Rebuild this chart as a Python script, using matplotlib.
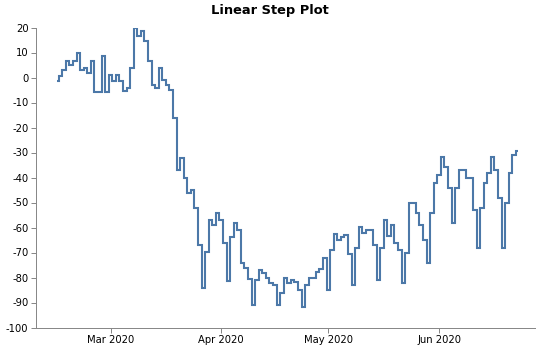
import pandas as pd
import matplotlib
matplotlib.use("Agg")
import matplotlib.pyplot as plt
import matplotlib.dates as mdates

plt.rcParams["font.family"] = ["DejaVu Sans"]
plt.rcParams["axes.unicode_minus"] = False

# daily values, one per day starting 2020-02-15
start_date = "2020-02-15"
values = [
    -1.3, 0.7, 2.9, 6.7, 5.1, 6.7, 9.8, 2.9, 3.8, 1.8,
    6.7, -5.9, -5.9, 8.7, -5.9, 0.9, -1.3, 0.9, -1.3, -5.2,
    -4.2, 3.8, 19.7, 16.7, 18.7, 14.7, 6.7, -3.1, -4.2, 3.8,
    -1.1, -3.1, -5.1, -16.2, -37, -32.1, -40.1, -46.1, -45.1, -52,
    -67, -84, -69.7, -57.1, -59, -54, -57.1, -66, -81.3, -63.7,
    -58, -61, -74, -76, -80.6, -91, -80.9, -77, -78, -80,
    -82, -83, -91, -86, -80, -82, -80.9, -81.7, -85, -91.9,
    -82.9, -80, -80, -77.7, -76.6, -72, -85, -69, -62.7, -65,
    -63.7, -62.9, -70.6, -83, -68, -59.7, -62, -60.9, -60.9, -66.9,
    -81, -68, -57, -63.3, -59, -66, -68.9, -82, -70, -50,
    -50, -54, -59, -65, -74, -54, -42, -39, -31.8, -35.8,
    -44, -58, -44, -37, -37, -40, -40, -53, -68, -52,
    -42, -38, -31.8, -37, -48, -68, -50, -38, -31, -29.2,
]
dates = pd.date_range(start_date, periods=len(values), freq="D")

x_domain = (pd.Timestamp("2020-02-09"), pd.Timestamp("2020-06-28"))
y_ticks = list(range(-100, 21, 10))

fig = plt.figure(figsize=(5.4, 3.49), dpi=100)
ax = fig.add_axes([35.5 / 540, (349 - 327.5) / 349, 500 / 540, 300 / 349])

ax.step(dates, values, where="mid", color="#4c78a8", linewidth=1.5,
        solid_joinstyle="miter", solid_capstyle="butt")

ax.set_xlim(*x_domain)
ax.set_ylim(-100, 20)
ax.set_yticks(y_ticks)
ax.xaxis.set_major_locator(mdates.MonthLocator())
ax.xaxis.set_major_formatter(mdates.DateFormatter("%b %Y"))

for side in ["top", "right"]:
    ax.spines[side].set_visible(False)
for side in ["left", "bottom"]:
    ax.spines[side].set_color("#888888")
    ax.spines[side].set_linewidth(0.72)

ax.tick_params(axis="both", length=3.6, width=0.72, color="#888888",
               labelsize=7.2, labelcolor="#000000", pad=1.5)

fig.text(270 / 540, 1 - 10.5 / 349, "Linear Step Plot", ha="center", va="center",
         fontsize=9.4, fontweight="bold")

fig.savefig("out.png", dpi=100)
